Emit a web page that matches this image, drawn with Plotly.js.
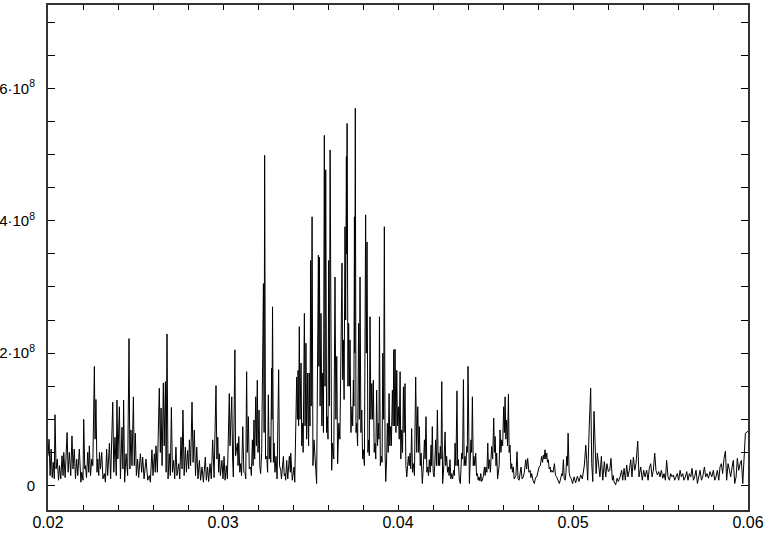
<!DOCTYPE html>
<html><head><meta charset="utf-8">
<script src="https://cdn.plot.ly/plotly-3.0.1.min.js"></script>
<style>html,body{margin:0;padding:0;background:#fff;} #chart{width:769px;height:533px;}</style>
</head><body><div id="chart"></div>
<script>
// amplitudes are in units of 10^8
const freqA = [0.02000,0.02006,0.02012,0.02018,0.02024,0.02030,0.02036,0.02040,0.02046,0.02053,
0.02060,0.02066,0.02073,0.02080,0.02086,0.02090,0.02098,0.02109,0.02115,0.02122,
0.02130,0.02137,0.02143,0.02150,0.02157,0.02164,0.02170,0.02179,0.02188,0.02193,
0.02200,0.02204,0.02210,0.02214,0.02220,0.02227,0.02233,0.02236,0.02243,0.02250,
0.02256,0.02265,0.02269,0.02274,0.02280,0.02284,0.02290,0.02294,0.02300,0.02307,
0.02314,0.02322,0.02328,0.02335,0.02341,0.02351,0.02358,0.02370,0.02376,0.02383,
0.02390,0.02394,0.02399,0.02408,0.02414,0.02423,0.02428,0.02432,0.02438,0.02446,
0.02455,0.02463,0.02468,0.02474,0.02480,0.02488,0.02493,0.02499,0.02505,0.02512,
0.02518,0.02528,0.02535,0.02541,0.02549,0.02560,0.02570,0.02579,0.02585,0.02594,
0.02600,0.02608,0.02613,0.02617,0.02625,0.02636,0.02642,0.02646,0.02652,0.02659,
0.02664,0.02671,0.02675,0.02680,0.02686,0.02693,0.02699,0.02705,0.02711,0.02718,
0.02724,0.02731,0.02737,0.02747,0.02753,0.02760,0.02766,0.02771,0.02778,0.02785,
0.02791,0.02798,0.02804,0.02808,0.02815,0.02823,0.02829,0.02836,0.02843,0.02850,
0.02857,0.02865,0.02872,0.02880,0.02888,0.02899,0.02905,0.02912,0.02918,0.02926,
0.02933,0.02941,0.02949,0.02960,0.02965,0.02970,0.02975,0.02979,0.02985,0.02994,0.03000];
const ampA = [0.45,0.70,0.15,0.55,0.12,0.35,0.10,1.07,0.25,0.40,
0.08,0.30,0.10,0.45,0.15,0.50,0.12,0.80,0.20,0.50,
0.15,0.75,0.25,0.55,0.10,0.40,0.15,0.55,0.05,0.20,
0.08,1.00,0.25,0.30,0.12,0.50,0.20,0.60,0.15,0.40,
0.30,1.80,0.70,1.30,0.20,0.40,0.15,0.50,0.25,0.50,
0.10,0.18,0.05,0.55,0.15,0.64,0.10,1.26,0.20,0.73,
0.15,1.29,0.40,1.19,0.10,0.88,0.25,1.29,0.05,0.48,
0.15,2.22,0.25,0.84,0.30,1.34,0.30,0.79,0.15,0.40,
0.12,0.48,0.20,0.43,0.10,0.40,0.08,0.15,0.05,0.54,
0.15,0.48,0.20,0.60,0.20,1.47,0.50,1.17,0.30,1.55,
0.60,1.57,0.20,2.29,0.10,0.48,0.15,1.18,0.20,0.38,
0.10,0.58,0.15,0.33,0.10,0.73,0.25,1.14,0.15,0.58,
0.20,0.53,0.25,0.69,0.30,1.26,0.35,0.84,0.15,0.58,
0.10,0.38,0.08,0.28,0.05,0.43,0.08,0.28,0.06,0.33,
0.10,0.69,0.12,1.51,0.40,0.73,0.20,0.48,0.15,0.38,0.10];

const freqB = [0.03006,0.03012,0.03019,0.03025,0.03036,0.03040,0.03050,0.03055,0.03059,0.03068,
0.03072,0.03082,0.03086,0.03090,0.03096,0.03101,0.03106,0.03113,0.03119,0.03126,
0.03130,0.03135,0.03139,0.03145,0.03150,0.03158,0.03162,0.03168,0.03172,0.03177,
0.03181,0.03187,0.03191,0.03196,0.03200,0.03206,0.03210,0.03215,0.03221,0.03231,
0.03235,0.03238,0.03243,0.03250,0.03255,0.03259,0.03264,0.03269,0.03273,0.03278,
0.03280,0.03283,0.03288,0.03292,0.03297,0.03303,0.03309,0.03318,0.03323,0.03330,
0.03334,0.03345,0.03350,0.03355,0.03358,0.03364,0.03370,0.03379,0.03385,0.03387,
0.03392,0.03396,0.03406,0.03410,0.03421,0.03425,0.03429,0.03432,0.03436,0.03440,
0.03446,0.03450,0.03455,0.03458,0.03465,0.03469,0.03474,0.03478,0.03484,0.03489,
0.03493,0.03497,0.03501,0.03504,0.03509,0.03514,0.03520,0.03528,0.03535,0.03545,
0.03548,0.03551,0.03555,0.03560,0.03565,0.03570,0.03574,0.03579,0.03583,0.03587,
0.03592,0.03596,0.03600,0.03604,0.03608,0.03612,0.03617,0.03621,0.03626,0.03633,
0.03640,0.03645,0.03650,0.03655,0.03662,0.03668,0.03680,0.03684,0.03688,0.03692,
0.03697,0.03701,0.03705,0.03707,0.03709,0.03714,0.03718,0.03722,0.03726,0.03731,
0.03737,0.03741,0.03745,0.03748,0.03751,0.03753,0.03756,0.03760,0.03764,0.03769,
0.03775,0.03779,0.03783,0.03788,0.03793,0.03798,0.03802,0.03808,0.03815,0.03819,
0.03823,0.03828,0.03833,0.03836,0.03840,0.03845,0.03850,0.03855,0.03859,0.03864,
0.03869,0.03873,0.03878,0.03883,0.03888,0.03891,0.03894,0.03899,0.03905,0.03909,
0.03913,0.03918,0.03922,0.03926,0.03930,0.03935,0.03939,0.03944,0.03949,0.03953,
0.03958,0.03962,0.03968,0.03972,0.03976,0.03980];
const ampB = [0.44,0.08,0.30,0.10,1.39,0.60,1.34,0.40,0.13,2.05,
0.45,0.64,0.30,0.74,0.20,0.33,0.15,0.89,0.20,0.18,
0.10,1.72,0.50,1.04,0.25,0.28,0.15,0.69,0.30,0.99,
0.40,1.34,0.60,1.59,0.50,1.14,0.30,0.18,0.50,3.05,
0.80,4.99,0.40,0.44,0.20,1.37,0.40,0.74,0.35,1.77,
1.00,2.70,0.35,0.64,0.20,0.44,0.10,1.75,0.30,0.23,
0.10,0.44,0.15,0.18,0.08,0.38,0.10,0.44,0.20,0.49,
0.12,0.08,0.28,0.05,1.64,1.00,1.74,0.90,2.40,1.00,
1.85,0.60,0.94,0.50,2.60,0.90,2.15,0.70,1.70,0.60,
1.70,0.90,3.40,1.20,4.06,0.30,0.69,0.20,0.03,3.48,
1.80,3.45,1.20,2.60,0.90,1.70,0.80,5.29,1.50,4.77,
0.80,1.04,0.70,3.40,1.20,5.07,0.60,0.23,0.64,0.40,
3.15,1.00,1.95,0.33,0.94,0.70,3.36,1.60,2.20,1.30,
3.91,2.50,4.97,3.50,5.47,1.50,2.45,1.50,2.20,0.80,
1.19,0.90,1.59,1.20,4.06,2.00,5.70,0.80,0.94,0.60,
2.45,1.00,3.15,0.80,1.14,0.40,0.54,0.30,4.09,2.00,
3.68,0.50,0.69,0.45,2.55,1.00,1.54,1.00,1.59,0.50,
0.64,0.40,1.44,0.60,0.94,0.70,2.55,0.30,0.44,0.35,
2.00,1.00,3.91,0.50,0.06,0.40,0.94,0.50,1.39,0.60,
0.89,0.60,1.44,0.90,2.05,0.90];

const freqC = [0.03983,0.03988,0.03993,0.03997,0.04002,0.04007,0.04012,0.04016,0.04021,0.04026,
0.04031,0.04035,0.04040,0.04045,0.04050,0.04055,0.04059,0.04064,0.04069,0.04073,
0.04078,0.04083,0.04088,0.04094,0.04101,0.04107,0.04113,0.04118,0.04122,0.04127,
0.04132,0.04136,0.04139,0.04145,0.04151,0.04155,0.04160,0.04165,0.04170,0.04174,
0.04179,0.04184,0.04189,0.04192,0.04196,0.04201,0.04206,0.04210,0.04215,0.04220,
0.04225,0.04230,0.04234,0.04238,0.04242,0.04246,0.04250,0.04255,0.04262,0.04269,
0.04273,0.04278,0.04283,0.04288,0.04292,0.04297,0.04302,0.04307,0.04312,0.04318,
0.04322,0.04326,0.04331,0.04337,0.04341,0.04345,0.04350,0.04356,0.04360,0.04364,
0.04369,0.04374,0.04378,0.04383,0.04388,0.04393,0.04396,0.04400,0.04408,0.04412,
0.04417,0.04421,0.04425,0.04430,0.04434,0.04439,0.04444,0.04449,0.04454,0.04458,
0.04463,0.04468,0.04473,0.04477,0.04482,0.04488,0.04494,0.04498,0.04503,0.04508,
0.04513,0.04517,0.04522,0.04528,0.04535,0.04541,0.04547,0.04551,0.04555,0.04560,
0.04564,0.04569,0.04574,0.04578,0.04583,0.04588,0.04593,0.04598,0.04604,0.04608,
0.04612,0.04616,0.04621,0.04626,0.04631,0.04635,0.04640,0.04645,0.04650,0.04654,
0.04659,0.04664,0.04669,0.04674,0.04680,0.04686,0.04692,0.04697,0.04703,0.04709,
0.04716,0.04722,0.04730,0.04735,0.04741,0.04748,0.04755,0.04759,0.04764,0.04771,
0.04779,0.04786,0.04793,0.04799,0.04806,0.04813,0.04821,0.04826,0.04831,0.04835,
0.04840,0.04845,0.04850,0.04854,0.04859,0.04864,0.04869,0.04873,0.04878,0.04886,
0.04894,0.04900,0.04907,0.04914,0.04922,0.04929,0.04936,0.04940,0.04945,0.04950,
0.04955,0.04960,0.04964,0.04968,0.04972,0.04978,0.04983];
const ampC = [2.06,0.80,1.74,0.90,1.19,0.70,1.72,0.40,0.84,0.50,
1.49,0.80,1.54,0.30,0.13,0.30,0.44,0.30,0.49,0.25,
0.86,0.20,0.33,0.15,1.64,0.50,1.19,0.50,0.89,0.30,
0.49,0.20,0.03,0.30,0.69,0.40,1.04,0.20,0.28,0.15,
0.39,0.20,0.61,0.30,0.89,0.20,0.13,0.30,0.69,0.30,
1.14,0.30,0.49,0.30,0.59,0.40,1.57,0.03,0.30,0.81,
0.30,0.44,0.20,0.28,0.15,0.39,0.10,0.18,0.10,0.23,
0.15,0.64,0.30,1.43,0.30,0.39,0.10,0.03,0.20,0.49,
0.40,1.60,0.30,0.44,0.30,0.59,0.50,1.80,0.03,0.30,
0.69,0.50,1.34,0.30,0.44,0.30,0.49,0.15,0.18,0.08,
0.13,0.07,0.18,0.06,0.08,0.15,0.28,0.15,0.28,0.20,
0.64,0.25,0.39,0.20,0.59,0.40,1.02,0.50,0.74,0.30,
0.49,0.10,0.18,0.30,0.84,0.50,0.69,0.60,1.19,0.80,
1.34,0.70,0.99,0.60,1.38,0.50,0.61,0.25,0.33,0.20,
0.28,0.10,0.13,0.15,0.51,0.10,0.08,0.15,0.28,0.10,
0.13,0.20,0.39,0.25,0.41,0.20,0.23,0.12,0.18,0.08,
0.03,0.12,0.13,0.20,0.28,0.30,0.44,0.35,0.46,0.40,
0.54,0.40,0.49,0.35,0.39,0.25,0.28,0.20,0.23,0.20,
0.33,0.15,0.13,0.08,0.03,0.10,0.18,0.15,0.39,0.10,
0.08,0.20,0.44,0.30,0.79,0.20,0.13];

const freqD = [0.04989,0.04998,0.05006,0.05015,0.05025,0.05034,0.05044,0.05053,0.05065,0.05073,
0.05078,0.05084,0.05093,0.05101,0.05107,0.05113,0.05120,0.05126,0.05132,0.05139,
0.05147,0.05154,0.05162,0.05170,0.05179,0.05187,0.05194,0.05202,0.05210,0.05217,
0.05225,0.05230,0.05234,0.05244,0.05252,0.05259,0.05269,0.05278,0.05284,0.05292,
0.05299,0.05307,0.05314,0.05322,0.05330,0.05337,0.05345,0.05353,0.05360,0.05370,
0.05377,0.05387,0.05396,0.05404,0.05412,0.05421,0.05429,0.05436,0.05444,0.05452,
0.05459,0.05467,0.05474,0.05482,0.05490,0.05497,0.05505,0.05513,0.05520,0.05528,
0.05535,0.05543,0.05551,0.05558,0.05566,0.05574,0.05581,0.05589,0.05596,0.05604,
0.05612,0.05619,0.05627,0.05634,0.05642,0.05650,0.05657,0.05665,0.05673,0.05680,
0.05688,0.05695,0.05703,0.05711,0.05718,0.05726,0.05734,0.05741,0.05751,0.05758,
0.05766,0.05774,0.05783,0.05793,0.05802,0.05810,0.05817,0.05825,0.05833,0.05840,
0.05848,0.05855,0.05863,0.05871,0.05878,0.05886,0.05894,0.05901,0.05909,0.05916,
0.05924,0.05932,0.05939,0.05947,0.05955,0.05962,0.05970,0.05977,0.05985,0.06000];
const ampD = [0.11,0.03,0.13,0.04,0.14,0.06,0.16,0.10,0.31,0.61,
0.39,0.08,0.91,1.47,0.33,0.06,1.12,0.69,0.18,0.49,
0.23,0.13,0.44,0.08,0.36,0.13,0.33,0.21,0.23,0.41,
0.08,0.15,0.06,0.01,0.11,0.06,0.13,0.23,0.08,0.26,
0.08,0.31,0.13,0.23,0.39,0.13,0.43,0.23,0.33,0.67,
0.13,0.28,0.08,0.23,0.13,0.23,0.08,0.26,0.33,0.13,
0.23,0.49,0.23,0.16,0.21,0.13,0.23,0.11,0.18,0.08,
0.38,0.13,0.08,0.18,0.13,0.16,0.08,0.13,0.18,0.08,
0.23,0.13,0.18,0.08,0.13,0.21,0.08,0.18,0.13,0.26,
0.08,0.13,0.23,0.03,0.13,0.23,0.08,0.13,0.28,0.13,
0.18,0.11,0.21,0.13,0.23,0.08,0.13,0.23,0.08,0.28,
0.33,0.18,0.41,0.52,0.08,0.33,0.23,0.13,0.28,0.38,
0.03,0.13,0.41,0.23,0.33,0.38,0.03,0.49,0.79,0.82];

const xTickVals = [0.020,0.022,0.024,0.026,0.028,0.030,0.032,0.034,0.036,0.038,0.040,
0.042,0.044,0.046,0.048,0.050,0.052,0.054,0.056,0.058,0.060];
const xTickText = ['0.02','','','','','0.03','','','','','0.04','','','','','0.05','','','','','0.06'];
const yTickVals = [0,0.5,1,1.5,2,2.5,3,3.5,4,4.5,5,5.5,6,6.5,7];
const yTickText = ['0','','','','2·10<sup>8</sup>','','','','4·10<sup>8</sup>','','','','6·10<sup>8</sup>','',''];

const freq = freqA.concat(freqB, freqC, freqD);
const amp = ampA.concat(ampB, ampC, ampD);

const fam = 'Liberation Sans, Arial, sans-serif';
const layout = {
  width: 769, height: 533,
  margin: {l: 48, r: 21, t: 5, b: 23, pad: 0},
  paper_bgcolor: '#fff', plot_bgcolor: '#fff',
  showlegend: false,
  font: {family: fam, size: 15, color: '#000'},
  xaxis: {
    range: [0.02, 0.06], tickmode: 'array', tickvals: xTickVals, ticktext: xTickText,
    ticks: 'inside', ticklen: 5, tickwidth: 1, tickcolor: '#000',
    showline: true, linecolor: '#333', linewidth: 2, mirror: 'ticks',
    showgrid: false, zeroline: false, tickfont: {family: fam, size: 16, color: '#000'},
    ticklabelstandoff: -3
  },
  yaxis: {
    range: [-0.37, 7.26], tickmode: 'array', tickvals: yTickVals, ticktext: yTickText,
    ticks: 'inside', ticklen: 7, tickwidth: 1, tickcolor: '#000',
    showline: true, linecolor: '#333', linewidth: 2, mirror: 'ticks',
    showgrid: false, zeroline: false, tickfont: {family: fam, size: 15, color: '#000'},
    ticklabelstandoff: 8
  }
};
Plotly.newPlot('chart', [{
  x: freq, y: amp, type: 'scatter', mode: 'lines',
  line: {color: '#000', width: 1}, hoverinfo: 'skip'
}], layout, {staticPlot: true, displayModeBar: false});
</script>
</body></html>
